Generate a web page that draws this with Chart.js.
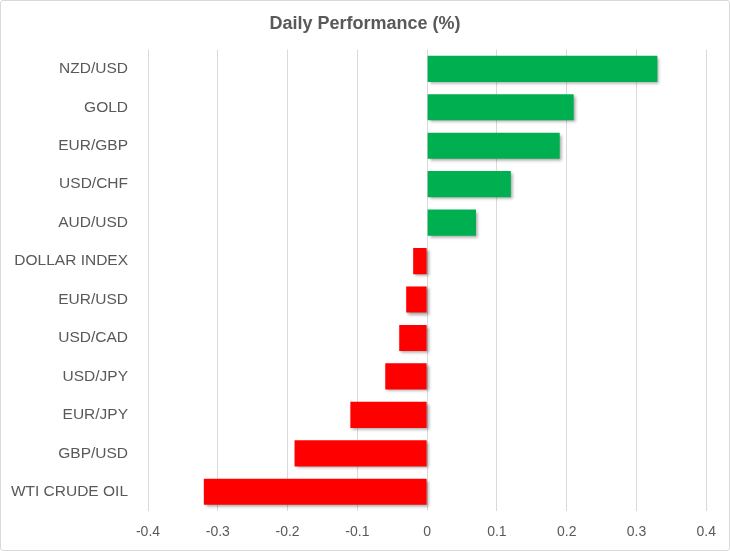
<!DOCTYPE html>
<html>
<head>
<meta charset="utf-8">
<script src="https://cdn.jsdelivr.net/npm/chart.js@4/dist/chart.umd.min.js"></script>
<style>
  html, body { margin: 0; padding: 0; background: #fff; }
  #wrap { position: relative; width: 728px; height: 549px; border: 1px solid #d9d9d9; border-radius: 3px; }
</style>
</head>
<body>
<div id="wrap"><canvas id="perfChart"></canvas></div>
<script>
const labels = ['NZD/USD', 'GOLD', 'EUR/GBP', 'USD/CHF', 'AUD/USD', 'DOLLAR INDEX',
                'EUR/USD', 'USD/CAD', 'USD/JPY', 'EUR/JPY', 'GBP/USD', 'WTI CRUDE OIL'];
const performance = [0.33, 0.21, 0.19, 0.12, 0.07, -0.02, -0.03, -0.04, -0.06, -0.11, -0.19, -0.32];
const xTicks = [-0.4, -0.3, -0.2, -0.1, 0, 0.1, 0.2, 0.3, 0.4];

document.addEventListener('DOMContentLoaded', function() {
    const ctx = document.getElementById('perfChart').getContext('2d');
    const font = "'Liberation Sans', Arial, sans-serif";

    // soft drop shadow under the bars, like the Excel original
    const barShadow = {
        id: 'barShadow',
        beforeDatasetsDraw(chart) {
            chart.ctx.save();
            chart.ctx.shadowColor = 'rgba(0,0,0,0.35)';
            chart.ctx.shadowBlur = 3;
            chart.ctx.shadowOffsetX = 2;
            chart.ctx.shadowOffsetY = 2;
        },
        afterDatasetsDraw(chart) {
            chart.ctx.restore();
        }
    };

    new Chart(ctx, {
        type: 'bar',
        data: {
            labels: labels,
            datasets: [{
                label: 'Daily Performance (%)',
                data: performance,
                backgroundColor: performance.map(v => v >= 0 ? '#00b050' : '#ff0000'),
                borderWidth: 0,
                categoryPercentage: 1,
                barPercentage: 0.68
            }]
        },
        options: {
            indexAxis: 'y',
            responsive: true,
            maintainAspectRatio: false,
            animation: false,
            layout: { padding: 0 },
            plugins: {
                legend: { display: false },
                tooltip: { enabled: false },
                title: {
                    display: true,
                    text: 'Daily Performance (%)',
                    color: '#595959',
                    font: { family: font, size: 18, weight: 'bold' },
                    padding: { top: 12, bottom: 15 }
                }
            },
            scales: {
                x: {
                    min: -0.4,
                    max: 0.4,
                    afterBuildTicks(axis) {
                        axis.ticks = xTicks.map(v => ({ value: v }));
                    },
                    afterFit(axis) { axis.height = 39; },
                    ticks: {
                        color: '#595959',
                        font: { family: font, size: 14 },
                        padding: 13,
                        callback: v => String(Math.round(v * 10) / 10)
                    },
                    grid: { color: '#d9d9d9', drawTicks: false },
                    border: { display: false }
                },
                y: {
                    afterFit(axis) { axis.width = 147; },
                    ticks: {
                        color: '#595959',
                        font: { family: font, size: 15.5 },
                        padding: 12
                    },
                    grid: { display: false },
                    border: { display: false }
                },
                // empty spacer on the right so the title stays centred on the canvas
                yRight: {
                    type: 'category',
                    position: 'right',
                    afterFit(axis) { axis.width = 22; },
                    ticks: { display: false },
                    grid: { display: false },
                    border: { display: false }
                }
            }
        },
        plugins: [barShadow]
    });
});
</script>
</body>
</html>
